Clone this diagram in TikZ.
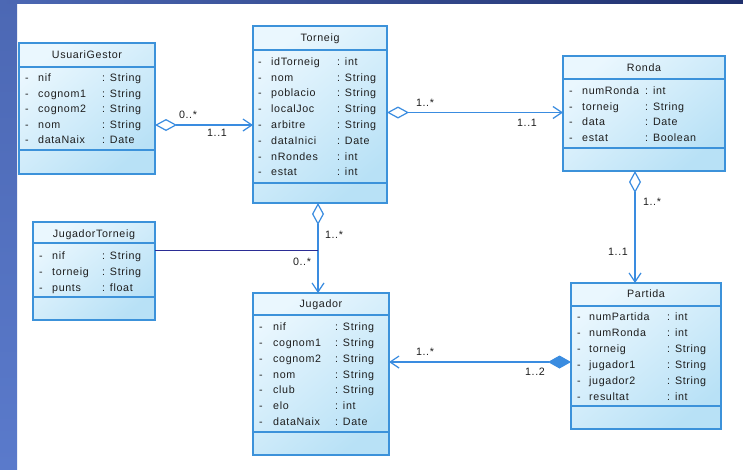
\documentclass[tikz,border=0pt]{standalone}
\usepackage{fontspec}
\setmainfont{Liberation Sans}[LetterSpace=6]
\usetikzlibrary{arrows.meta}
\definecolor{bord}{HTML}{3C92DA}
\definecolor{conn}{HTML}{3A8CE0}
\definecolor{navy}{HTML}{2B2D95}
\definecolor{fillA}{HTML}{EAF7FE}
\definecolor{fillB}{HTML}{B8E1F6}
\definecolor{bandT}{HTML}{4C68B4}
\definecolor{bandB}{HTML}{5A7ACB}
\definecolor{topL}{HTML}{4C68B4}
\definecolor{topR}{HTML}{1F2F6C}
\definecolor{ink}{HTML}{1E1E1E}
\newcommand\fs{\fontsize{10.7}{12}\selectfont}
\newcount\rowid
\newcommand\attr[6]{%
  \global\advance\rowid by 1
  \node[txt] (d\the\rowid) at ({#1},{#4+4}) {-};
  \node[txt] (n\the\rowid) at ({#2},{#4+4}) {#5};
  \node[txt] (t\the\rowid) at ({#3},{#4+4}) {: #6};}
\begin{document}
\begin{tikzpicture}[x=1pt,y=-1pt,
  classbox/.style={draw=bord, line width=1.2pt, top color=fillA, bottom color=fillB,
    shading angle=40, anchor=north west, inner sep=0pt, outer sep=0pt},
  sepline/.style={draw=bord, line width=1.2pt},
  txt/.style={anchor=base west, inner sep=0pt, text=ink, font=\fs},
  ttl/.style={anchor=base, inner sep=0pt, text=ink, font=\fs},
  lbl/.style={anchor=center, inner sep=0pt, text=ink, font=\fs},
  assoc/.style={draw=conn, line width=1.2pt},
]
\useasboundingbox (0,0) rectangle (743,469);
\fill[white] (0,0) rectangle (743,469);
\shade[top color=bandT, bottom color=bandB] (0,0) rectangle (17,469);
\shade[left color=topL, right color=topR] (0,0) rectangle (743,3);

% ---------- class boxes ----------
\node[classbox, minimum width=136pt, minimum height=131pt] (ug)  at (19,43) {};
\node[classbox, minimum width=134pt, minimum height=177pt] (tor) at (253,26) {};
\node[classbox, minimum width=162pt, minimum height=115pt] (ron) at (563,56) {};
\node[classbox, minimum width=150pt, minimum height=146pt] (par) at (571,283) {};
\node[classbox, minimum width=136pt, minimum height=162pt] (jug) at (253,293) {};
\node[classbox, minimum width=122pt, minimum height=98pt]  (jt)  at (33,222) {};

% compartment lines
\coordinate (ugH) at (0,67);  \coordinate (ugA) at (0,150);
\coordinate (toH) at (0,50);  \coordinate (toA) at (0,183);
\coordinate (roH) at (0,79);  \coordinate (roA) at (0,148);
\coordinate (paH) at (0,306); \coordinate (paA) at (0,406);
\coordinate (juH) at (0,315); \coordinate (juA) at (0,432);
\coordinate (jtH) at (0,243); \coordinate (jtA) at (0,297);
\foreach \b/\h/\a in {ug/ugH/ugA, tor/toH/toA, ron/roH/roA, par/paH/paA, jug/juH/juA, jt/jtH/jtA}{
  \draw[sepline] (\b.west |- \h) -- (\b.east |- \h);
  \draw[sepline] (\b.west |- \a) -- (\b.east |- \a);
}

% titles
\node[ttl] (ugT)  at (87,58)   {UsuariGestor};
\node[ttl] (torT) at (320,41)  {Torneig};
\node[ttl] (ronT) at (644,71)  {Ronda};
\node[ttl] (parT) at (646,297) {Partida};
\node[ttl] (jugT) at (321,307) {Jugador};
\node[ttl] (jtT)  at (94,237)  {JugadorTorneig};

% attributes
\attr{25}{38}{102}{77.5}{nif}{String}
\attr{25}{38}{102}{93}{cognom1}{String}
\attr{25}{38}{102}{108.5}{cognom2}{String}
\attr{25}{38}{102}{124}{nom}{String}
\attr{25}{38}{102}{139.5}{dataNaix}{Date}

\attr{258}{271}{337}{61}{idTorneig}{int}
\attr{258}{271}{337}{77}{nom}{String}
\attr{258}{271}{337}{92.5}{poblacio}{String}
\attr{258}{271}{337}{108.5}{localJoc}{String}
\attr{258}{271}{337}{124}{arbitre}{String}
\attr{258}{271}{337}{140}{dataInici}{Date}
\attr{258}{271}{337}{156}{nRondes}{int}
\attr{258}{271}{337}{171.5}{estat}{int}

\attr{569}{582}{645}{90}{numRonda}{int}
\attr{569}{582}{645}{106}{torneig}{String}
\attr{569}{582}{645}{121.5}{data}{Date}
\attr{569}{582}{645}{137.5}{estat}{Boolean}

\attr{577}{589}{667}{316}{numPartida}{int}
\attr{577}{589}{667}{332}{numRonda}{int}
\attr{577}{589}{667}{348}{torneig}{String}
\attr{577}{589}{667}{364}{jugador1}{String}
\attr{577}{589}{667}{380}{jugador2}{String}
\attr{577}{589}{667}{396}{resultat}{int}

\attr{259}{273}{335}{326}{nif}{String}
\attr{259}{273}{335}{342}{cognom1}{String}
\attr{259}{273}{335}{358}{cognom2}{String}
\attr{259}{273}{335}{374}{nom}{String}
\attr{259}{273}{335}{389.5}{club}{String}
\attr{259}{273}{335}{405}{elo}{int}
\attr{259}{273}{335}{421}{dataNaix}{Date}

\attr{39}{52}{102}{255}{nif}{String}
\attr{39}{52}{102}{271}{torneig}{String}
\attr{39}{52}{102}{287}{punts}{float}

% ---------- connectors ----------
\coordinate (c1) at (0,125);
\coordinate (c2) at (0,112.5);
\coordinate (c3) at (635,0);
\coordinate (c4) at (318,0);
\coordinate (c6) at (0,362);
\coordinate (tj) at (318,250);

\draw[assoc, {Diamond[open,length=22pt,width=12pt]}-{Straight Barb[length=9pt,width=12pt]}]
  (ug.east |- c1) -- (tor.west |- c1);
\draw[assoc, {Diamond[open,length=22pt,width=12pt]}-{Straight Barb[length=9pt,width=12pt]}]
  (tor.east |- c2) -- (ron.west |- c2);
\draw[assoc, {Diamond[open,length=22pt,width=12pt]}-{Straight Barb[length=9pt,width=12pt]}]
  (ron.south -| c3) -- (par.north -| c3);
\draw[assoc, {Diamond[open,length=22pt,width=12pt]}-{Straight Barb[length=9pt,width=12pt]}]
  (tor.south -| c4) -- (jug.north -| c4);
\draw[assoc, {Diamond[length=23pt,width=13pt]}-{Straight Barb[length=9pt,width=12pt]}]
  (par.west |- c6) -- (jug.east |- c6);
\draw[draw=navy, line width=1pt] (jt.east |- tj) -- (tj);

% multiplicities
\node[lbl] (m1) at (188,115) {0..*};
\node[lbl] (m2) at (217,133) {1..1};
\node[lbl] (m3) at (425,103) {1..*};
\node[lbl] (m4) at (527,123) {1..1};
\node[lbl] (m5) at (652,202) {1..*};
\node[lbl] (m6) at (618,252) {1..1};
\node[lbl] (m7) at (334,235) {1..*};
\node[lbl] (m8) at (302,262) {0..*};
\node[lbl] (m9) at (425,352) {1..*};
\node[lbl] (m10) at (535,372) {1..2};
\end{tikzpicture}
\end{document}
